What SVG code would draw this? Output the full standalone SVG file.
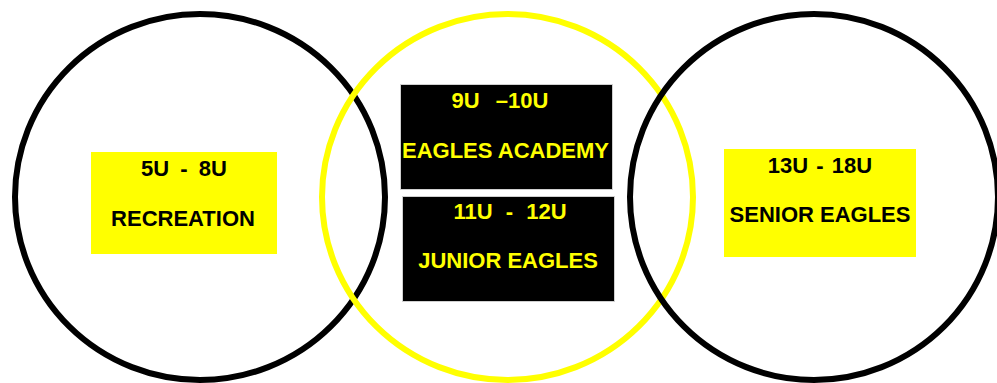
<svg xmlns="http://www.w3.org/2000/svg" width="997" height="383" viewBox="0 0 997 383">
<style>
.ring{fill:none;stroke-width:6}
.blk{stroke:#000}
.yel{stroke:#ffff00}
.ybox{fill:#ffff00}
.bbox{fill:#000;stroke:#cfcfcf;stroke-width:1}
text{font-family:"Liberation Sans",Arial,sans-serif;font-weight:bold;font-size:22px;text-anchor:middle}
.dk{fill:#000}
.lt{fill:#ffff00}
</style>
<rect width="997" height="383" fill="#fff"/>
<g id="circle-left"><ellipse class="ring blk" cx="200" cy="197" rx="185" ry="183"/></g>
<g id="circle-middle"><ellipse class="ring yel" cx="507.5" cy="197" rx="185.5" ry="183"/></g>
<g id="circle-right"><ellipse class="ring blk" cx="814" cy="197" rx="184" ry="183"/></g>
<g id="connectors"></g>
<g id="recreation">
<rect class="ybox" x="91" y="152" width="186" height="102"/>
<text class="dk" x="184" y="176" word-spacing="5">5U - 8U</text>
<text class="dk" x="183" y="226">RECREATION</text>
</g>
<g id="eagles-academy">
<rect class="bbox" x="400.5" y="84.5" width="212" height="105"/>
<text class="lt" x="500" y="108" word-spacing="10">9U –10U</text>
<text class="lt" x="505.5" y="158">EAGLES ACADEMY</text>
</g>
<g id="junior-eagles">
<rect class="bbox" x="402.5" y="196.5" width="212" height="105"/>
<text class="lt" x="510" y="219" word-spacing="7">11U - 12U</text>
<text class="lt" x="508" y="268">JUNIOR EAGLES</text>
</g>
<g id="senior-eagles">
<rect class="ybox" x="724" y="149" width="192" height="108"/>
<text class="dk" x="820" y="173" word-spacing="2">13U - 18U</text>
<text class="dk" x="820" y="222">SENIOR EAGLES</text>
</g>
</svg>
